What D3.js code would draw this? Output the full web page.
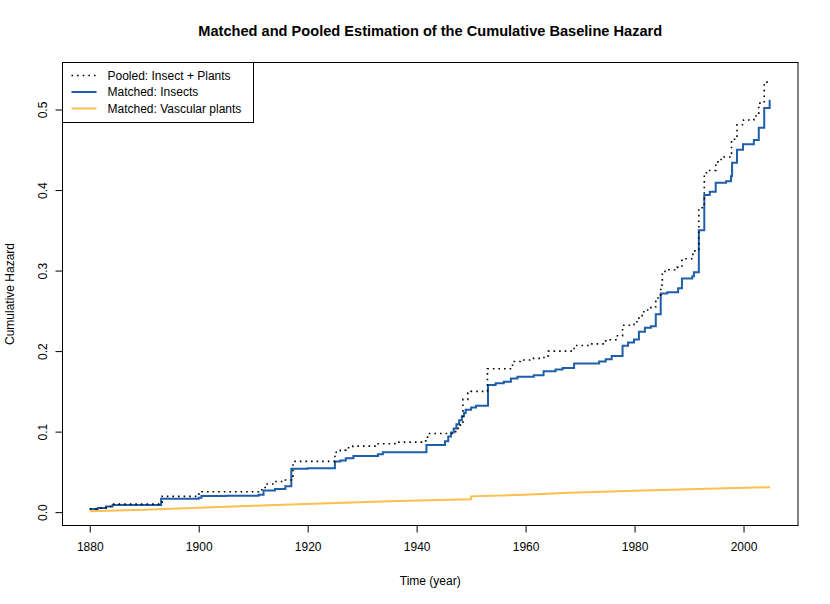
<!DOCTYPE html>
<html>
<head>
<meta charset="utf-8">
<script src="https://cdn.jsdelivr.net/npm/d3@7"></script>
<style>
  html, body { margin: 0; padding: 0; background: #fff; }
  svg { display: block; font-family: "Liberation Sans", Arial, Helvetica, sans-serif; }
</style>
</head>
<body>
<svg id="chart" width="830" height="604"></svg>
<script>
// ---- data ----
const pooledYears = [1880, 1881.5, 1883, 1884.2, 1893.3, 1900, 1900.6, 1911, 1912.2, 1914, 1915.6, 1917.3, 1925, 1926, 1927, 1928.3, 1932.6, 1936, 1940.9, 1942, 1946.7, 1947.6, 1948.5, 1949.4, 1950, 1953, 1957.6, 1959, 1961, 1962.5, 1963.7, 1964.2, 1968.9, 1972, 1974.7, 1976.6, 1977.8, 1979.9, 1980.8, 1981.7, 1983, 1983.9, 1984.8, 1985.1, 1986.3, 1987.8, 1988.7, 1990.7, 1991.8, 1992.8, 1993.8, 1994.9, 1995.3, 1996.4, 1997.8, 1998.8, 2000, 2001.9, 2002.8, 2003.8, 2004.8, 2005];
const pooledVals  = [0.004, 0.005, 0.007, 0.010, 0.0196, 0.0224, 0.0253, 0.0278, 0.035, 0.038, 0.040, 0.063, 0.0744, 0.077, 0.080, 0.082, 0.085, 0.087, 0.0885, 0.0976, 0.100, 0.108, 0.140, 0.148, 0.150, 0.178, 0.187, 0.189, 0.191, 0.192, 0.194, 0.200, 0.207, 0.209, 0.214, 0.219, 0.232, 0.2365, 0.244, 0.251, 0.255, 0.266, 0.282, 0.299, 0.301, 0.304, 0.3146, 0.3245, 0.378, 0.4214, 0.4243, 0.432, 0.438, 0.441, 0.463, 0.481, 0.487, 0.492, 0.508, 0.534, 0.535, 0.535];

const insectYears = [1880, 1881.5, 1883, 1884.2, 1893.1, 1900, 1900.5, 1905, 1911, 1911.9, 1914, 1915.9, 1917, 1920, 1925, 1926, 1927, 1928.4, 1932.9, 1933.8, 1941.8, 1945.2, 1945.8, 1946.3, 1946.8, 1947.3, 1947.8, 1948.3, 1948.7, 1949, 1950, 1950.9, 1953.1, 1954.5, 1956, 1957.3, 1958.5, 1961.5, 1963.3, 1965.5, 1966.8, 1968.9, 1973.5, 1974.7, 1975.8, 1977.8, 1978.8, 1979.9, 1980.8, 1981.9, 1983, 1983.9, 1984.8, 1986, 1988, 1988.7, 1990.6, 1990.9, 1991.8, 1992.8, 1993.8, 1994.9, 1996.8, 1997.7, 1997.9, 1998.8, 1999.9, 2001.9, 2002.8, 2003.8, 2004.8, 2004.95];
const insectVals  = [0.004, 0.005, 0.007, 0.009, 0.0165, 0.018, 0.020, 0.0205, 0.0216, 0.027, 0.0287, 0.032, 0.054, 0.0545, 0.0628, 0.064, 0.067, 0.0698, 0.072, 0.0744, 0.0835, 0.088, 0.094, 0.099, 0.104, 0.109, 0.114, 0.119, 0.123, 0.127, 0.130, 0.132, 0.158, 0.160, 0.162, 0.166, 0.168, 0.170, 0.175, 0.177, 0.179, 0.1845, 0.187, 0.190, 0.194, 0.2066, 0.2107, 0.2145, 0.224, 0.229, 0.231, 0.2456, 0.2714, 0.273, 0.278, 0.290, 0.293, 0.298, 0.350, 0.394, 0.398, 0.409, 0.411, 0.417, 0.434, 0.450, 0.457, 0.462, 0.4775, 0.502, 0.511, 0.511];

const plantYears = [1880, 1890, 1900, 1910, 1922.4, 1935, 1947.9, 1950, 1950, 1959.8, 1968, 1980, 1990, 2004.9];
const plantVals  = [0.001, 0.003, 0.0055, 0.008, 0.0108, 0.0135, 0.0158, 0.016, 0.0196, 0.0216, 0.024, 0.0265, 0.0285, 0.031];

const xTicks = [1880, 1900, 1920, 1940, 1960, 1980, 2000];
const yTicks = [0.0, 0.1, 0.2, 0.3, 0.4, 0.5];
const legendLabels = ["Pooled: Insect + Plants", "Matched: Insects", "Matched: Vascular plants"];

// ---- layout ----
const svg = d3.select("#chart");
const L = 62.5, R = 798, T = 62.5, B = 525.5;
const x = d3.scaleLinear().domain([1875, 2010]).range([L, R]);
const y = d3.scaleLinear().domain([-0.0166, 0.5584]).range([B, T]);

const blue = "#1f5ea8", orange = "#fdbf4f";

function pts(xs, ys) { return xs.map((d, i) => [d, ys[i]]); }

const stepLine = d3.line().x(d => x(d[0])).y(d => y(d[1])).curve(d3.curveStepAfter);
const linLine = d3.line().x(d => x(d[0])).y(d => y(d[1]));

const g = svg.append("g");

// orange plants
g.append("path").datum(pts(plantYears, plantVals))
  .attr("d", linLine).attr("fill", "none").attr("stroke", orange).attr("stroke-width", 2);
// blue insects
g.append("path").datum(pts(insectYears, insectVals))
  .attr("d", stepLine).attr("fill", "none").attr("stroke", blue).attr("stroke-width", 2);
// dotted pooled
g.append("path").datum(pts(pooledYears, pooledVals))
  .attr("d", stepLine).attr("fill", "none").attr("stroke", "#000").attr("stroke-width", 1.6)
  .attr("stroke-dasharray", "1.6,4");

// box
svg.append("rect").attr("x", L).attr("y", T).attr("width", R - L).attr("height", B - T)
  .attr("fill", "none").attr("stroke", "#000").attr("stroke-width", 1);

// x axis
const xAxis = d3.axisBottom(x).tickValues(xTicks).tickSize(7).tickPadding(10).tickFormat(d3.format("d"));
const gx = svg.append("g").attr("transform", `translate(0,${B})`).call(xAxis);
gx.select(".domain").attr("d", `M${x(1880)},0H${x(2000)}`);
gx.selectAll("text").attr("font-size", 12).attr("fill", "#000").attr("font-family", "Liberation Sans, Arial, sans-serif");

// y axis
const yAxis = d3.axisLeft(y).tickValues(yTicks).tickSize(7).tickFormat(d3.format(".1f"));
const gy = svg.append("g").attr("transform", `translate(${L},0)`).call(yAxis);
gy.select(".domain").attr("d", `M0,${y(0)}V${y(0.5)}`);
gy.selectAll("text")
  .attr("font-size", 12).attr("fill", "#000").attr("font-family", "Liberation Sans, Arial, sans-serif")
  .attr("text-anchor", "middle").attr("dy", null).attr("x", null)
  .attr("transform", "translate(-20,0) rotate(-90)")
  .attr("dominant-baseline", "central");

// titles
svg.append("text").attr("x", (L + R) / 2).attr("y", 36).attr("text-anchor", "middle")
  .attr("font-size", 14.6).attr("font-weight", "bold").text("Matched and Pooled Estimation of the Cumulative Baseline Hazard");
svg.append("text").attr("x", (L + R) / 2).attr("y", 585).attr("text-anchor", "middle")
  .attr("font-size", 12).text("Time (year)");
svg.append("text").attr("transform", `translate(10,${(T + B) / 2}) rotate(-90)`).attr("text-anchor", "middle")
  .attr("dominant-baseline", "central").attr("font-size", 12).text("Cumulative Hazard");

// legend
const lg = svg.append("g");
lg.append("rect").attr("x", L).attr("y", T).attr("width", 191).attr("height", 60)
  .attr("fill", "#fff").attr("stroke", "#000").attr("stroke-width", 1);
const styles = [
  {stroke: "#000", w: 1.6, dash: "1.6,4"},
  {stroke: blue, w: 2, dash: null},
  {stroke: orange, w: 2, dash: null}
];
legendLabels.forEach((lab, i) => {
  const yy = T + 13 + i * 16.5;
  lg.append("line").attr("x1", L + 9).attr("x2", L + 34).attr("y1", yy).attr("y2", yy)
    .attr("stroke", styles[i].stroke).attr("stroke-width", styles[i].w)
    .attr("stroke-dasharray", styles[i].dash);
  lg.append("text").attr("x", L + 45).attr("y", yy).attr("dominant-baseline", "central")
    .attr("font-size", 12).text(lab);
});
</script>
</body>
</html>
